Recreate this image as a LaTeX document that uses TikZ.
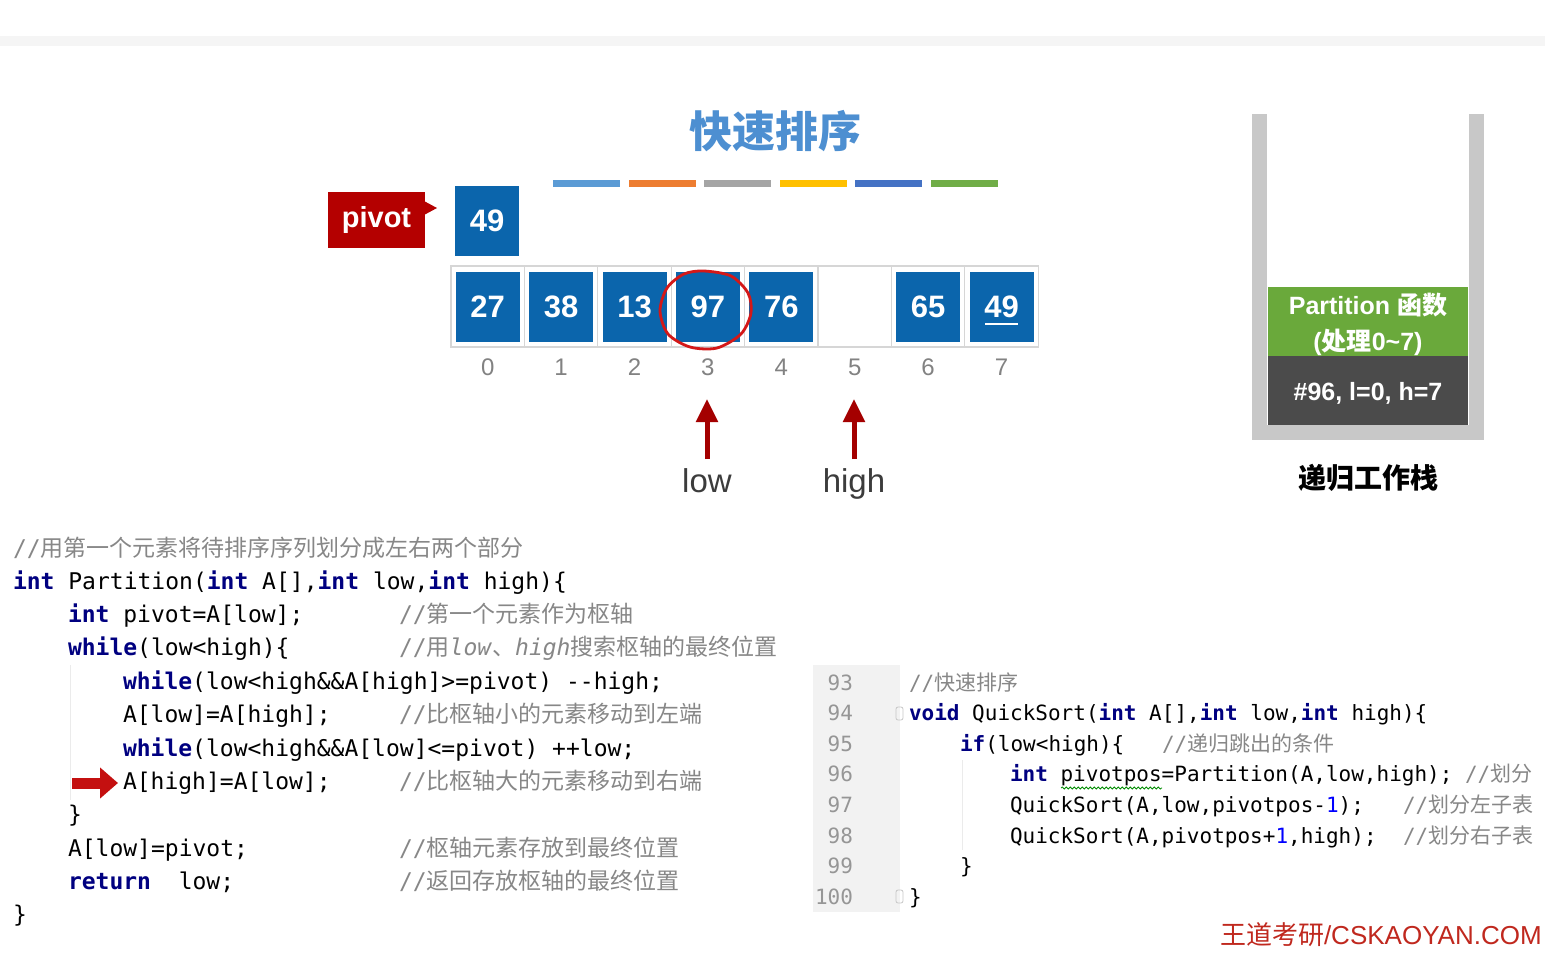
\documentclass[tikz,border=0pt]{standalone}
\usepackage{fontspec}
\setmainfont{Liberation Sans}
\newfontfamily\cjk{Noto Sans CJK SC}
\newfontfamily\mono{DejaVu Sans Mono}
\usetikzlibrary{arrows.meta,decorations.pathmorphing}
\definecolor{boxblue}{RGB}{11,101,172}
\definecolor{titleblue}{RGB}{77,143,209}
\definecolor{pivred}{RGB}{180,0,0}
\definecolor{arrred}{RGB}{164,0,0}
\definecolor{circred}{RGB}{212,24,24}
\definecolor{codered}{RGB}{196,16,16}
\definecolor{footred}{RGB}{192,40,30}
\definecolor{cellgray}{RGB}{214,214,214}
\definecolor{idxgray}{RGB}{130,130,130}
\definecolor{lblgray}{RGB}{60,60,60}
\definecolor{wallgray}{RGB}{200,200,200}
\definecolor{stkgreen}{RGB}{106,169,59}
\definecolor{stkdark}{RGB}{75,75,75}
\definecolor{kwblue}{RGB}{0,0,128}
\definecolor{cmtgray}{RGB}{135,135,135}
\definecolor{numblue}{RGB}{0,0,255}
\definecolor{lngray}{RGB}{150,150,150}
\definecolor{gutter}{RGB}{242,242,242}
\definecolor{bara}{RGB}{91,155,213}
\definecolor{barb}{RGB}{237,125,49}
\definecolor{barc}{RGB}{165,165,165}
\definecolor{bard}{RGB}{255,192,0}
\definecolor{bare}{RGB}{68,114,196}
\definecolor{barf}{RGB}{112,173,71}
\newcommand\kw[1]{\textcolor{kwblue}{\bfseries #1}}
\newcommand\zhL[1]{{\cjk\fontsize{23}{23}\selectfont #1}}
\newcommand\zhR[1]{{\cjk\fontsize{21}{21}\selectfont #1}}
\newcommand\cmL[1]{\textcolor{cmtgray}{//\zhL{#1}}}
\newcommand\cmR[1]{\textcolor{cmtgray}{//\zhR{#1}}}
\tikzset{
  numbox/.style={fill=boxblue, minimum width=64pt, minimum height=70pt, text=white, font=\bfseries\fontsize{31}{31}\selectfont},
  cellbox/.style={draw=cellgray, line width=1.2pt, minimum width=73.4pt, minimum height=81pt},
  idxlbl/.style={text=idxgray, font=\fontsize{24}{24}\selectfont},
  ptrlbl/.style={anchor=base, text=lblgray, font=\fontsize{33}{33}\selectfont},
  uparr/.style={draw=arrred, line width=5pt, -{Triangle[length=23pt,width=21pt]}},
  codeL/.style={anchor=base west, font=\mono\fontsize{23}{23}\selectfont},
  codeR/.style={anchor=base west, font=\mono\fontsize{21}{21}\selectfont},
  lnum/.style={anchor=base east, text=lngray, font=\mono\fontsize{21}{21}\selectfont},
  guide/.style={draw=black!8, line width=1pt},
  stackframe/.style={minimum width=200pt, minimum height=69pt},
  stacktext/.style={text=white, align=center, font=\bfseries\fontsize{25}{36}\selectfont}
}
\begin{document}
\begin{tikzpicture}[x=1pt,y=-1pt, every node/.style={inner sep=0pt, outer sep=0pt}]
\useasboundingbox (0,0) rectangle (1545,954);
\fill[white] (0,0) rectangle (1545,954);
\fill[black!4] (0,36) rectangle (1545,46);

% title and colour bars
\node[font=\cjk\bfseries\fontsize{43}{43}\selectfont, text=titleblue] (title) at (775,131) {快速排序};
\foreach \c [count=\i from 0] in {bara,barb,barc,bard,bare,barf}
  \fill[\c] (553+\i*75.6,180) rectangle (620+\i*75.6,187);

% pivot
\node[fill=pivred, minimum width=97pt, minimum height=56pt, text=white, font=\bfseries\fontsize{29}{29}\selectfont] (pivotlbl) at (376.5,220) {pivot};
\fill[pivred] (424,201) -- (437,208) -- (424,215) -- cycle;
\node[numbox] (pv) at (487,221) {49};

% array
\foreach \v [count=\i from 0] in {27,38,13,97,76,{},65,49}{
  \node[cellbox] (c\i) at (487.7+\i*73.4,306.5) {};
  \node[idxlbl] (i\i) at (487.7+\i*73.4,367) {\i};
}
\foreach \v/\i in {27/0,38/1,13/2,97/3,76/4,65/6,49/7}
  \node[numbox] (n\i) at (c\i) {\v};
\draw[white, line width=1.8pt] (985,324) -- (1018,324);
\draw[circred, line width=2.8pt] plot[smooth cycle] coordinates {(704,271) (731,276) (748,293) (751,313) (741,334) (717,348) (690,347) (668,334) (660,311) (667,288) (684,274)};

% low / high pointers
\node[ptrlbl] (lowlbl) at (707,492) {low};
\node[ptrlbl] (highlbl) at (854,492) {high};
\coordinate (lowtip) at (707,399);
\coordinate (hightip) at (854,399);
\draw[uparr] (lowlbl.north) ++(0,-9) coordinate (lowtail) -- (lowtip);
\draw[uparr] (highlbl.north) ++(0,-9) coordinate (hightail) -- (hightip);

% recursion stack
\fill[wallgray] (1252,114) rectangle (1267,440);
\fill[wallgray] (1469,114) rectangle (1484,440);
\fill[wallgray] (1252,425) rectangle (1484,440);
\node[stackframe, fill=stkgreen] (frame1) at (1368,321.5) {};
\node[stackframe, fill=stkdark] (frame0) at (1368,390.5) {};
\node[stacktext] (frame1txt) at (1368,324.5) {Partition {\cjk 函数}\\({\cjk 处理}0\textasciitilde7)};
\node[stacktext] (frame0txt) at (1368,393) {\#96, l=0, h=7};
\node[font=\cjk\bfseries\fontsize{28}{28}\selectfont] (stacklbl) at (1368,478) {递归工作栈};

% Partition code
\draw[guide] (70,665) -- (70,800);
\node[codeL] (L0) at (13,556) {\cmL{用第一个元素将待排序序列划分成左右两个部分}};
\node[codeL] (L1) at (13,589) {\kw{int} Partition(\kw{int} A[],\kw{int} low,\kw{int} high)\{};
\node[codeL] (L2) at (68,622) {\kw{int} pivot=A[low];};
\node[codeL] (L3) at (68,655) {\kw{while}(low<high)\{};
\node[codeL] (L4) at (123,689) {\kw{while}(low<high\&\&A[high]>=pivot) -\kern0pt-high;};
\node[codeL] (L5) at (123,722) {A[low]=A[high];};
\node[codeL] (L6) at (123,756) {\kw{while}(low<high\&\&A[low]<=pivot) ++low;};
\node[codeL] (L7) at (123,789) {A[high]=A[low];};
\node[codeL] (L8) at (68,822) {\}};
\node[codeL] (L9) at (68,856) {A[low]=pivot;};
\node[codeL] (L10) at (68,889) {\kw{return}\ \ low;};
\node[codeL] (L11) at (13,922) {\}};
\node[codeL] (C2) at (399,622) {\cmL{第一个元素作为枢轴}};
\node[codeL] (C3) at (399,655) {\textcolor{cmtgray}{//\zhL{用}\textit{low}\zhL{、}\textit{high}\zhL{搜索枢轴的最终位置}}};
\node[codeL] (C5) at (399,722) {\cmL{比枢轴小的元素移动到左端}};
\node[codeL] (C7) at (399,789) {\cmL{比枢轴大的元素移动到右端}};
\node[codeL] (C9) at (399,856) {\cmL{枢轴元素存放到最终位置}};
\node[codeL] (C10) at (399,889) {\cmL{返回存放枢轴的最终位置}};
\coordinate (codearrtail) at (72,783);
\draw[codered, line width=11pt, shorten >=5pt, -{Triangle[length=18pt,width=30pt]}] (codearrtail) -- (codearrtail -| L7.west);

% QuickSort code
\fill[gutter] (813,665) rectangle (900,912);
\foreach \n [count=\i from 0] in {93,...,100}
  \node[lnum] (ln\n) at (853,690+\i*30.6) {\n};
\draw[black!22, line width=0.8pt, rounded corners=2pt] (896,707) rectangle (903,720);
\draw[black!22, line width=0.8pt, rounded corners=2pt] (896,890) rectangle (903,903);
\draw[guide] (962,760) -- (962,850);
\node[codeR] (R93) at (909,690) {\cmR{快速排序}};
\node[codeR] (R94) at (909,720.6) {\kw{void} QuickSort(\kw{int} A[],\kw{int} low,\kw{int} high)\{};
\node[codeR] (R95) at (960,751.2) {\kw{if}(low<high)\{};
\node[codeR] (R96) at (1010,781.8) {\kw{int} pivotpos=Partition(A,low,high);};
\node[codeR] (R97) at (1010,812.4) {QuickSort(A,low,pivotpos-\textcolor{numblue}{1});};
\node[codeR] (R98) at (1010,843) {QuickSort(A,pivotpos+\textcolor{numblue}{1},high);};
\node[codeR] (R99) at (960,873.6) {\}};
\node[codeR] (R100) at (909,904.2) {\}};
\node[codeR] (D95) at (1162,751.2) {\cmR{递归跳出的条件}};
\node[codeR] (D96) at (1465,781.8) {\cmR{划分}};
\node[codeR] (D97) at (1403,812.4) {\cmR{划分左子表}};
\node[codeR] (D98) at (1403,843) {\cmR{划分右子表}};
\draw[green!55!black, line width=0.8pt, decorate, decoration={snake, amplitude=1pt, segment length=4pt}] (1061,788) -- (1162,788);

% footer
\node[anchor=base west, text=footred, font=\fontsize{26}{26}\selectfont] (footer) at (1220,944) {{\cjk 王道考研}/CSKAOYAN.COM};
\end{tikzpicture}
\end{document}
